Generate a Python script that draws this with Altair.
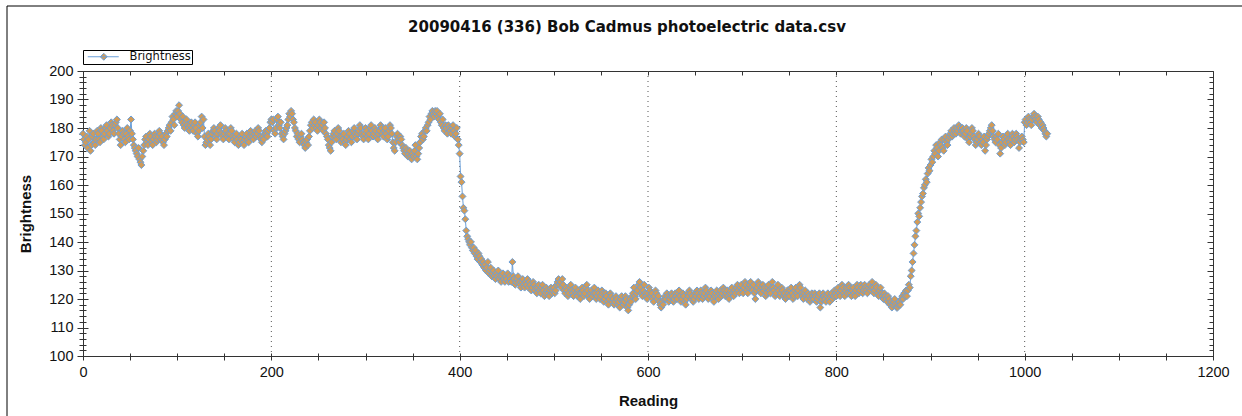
import altair as alt
import pandas as pd

# ---- data (one value per reading) ----
pre_eclipse = [
    178,176,174,175,177, 173,176,179,172,174, 177,178,175,174,176, 179,178,176,175,180, 179,177,176,178,180,
    181,179,177,178,180, 182,181,179,178,181, 182,183,180,178,176, 174,177,179,178,176, 175,178,180,177,176,
    179,183,178,176,174, 173,172,171,170,173, 169,168,167,170,172, 174,176,177,175,174, 176,178,177,175,174,
    176,178,177,175,176, 177,179,178,176,177, 175,174,176,178,177, 179,180,181,179,182, 184,183,181,185,186,
    184,186,188,185,183, 182,184,181,180,182, 183,181,180,179,181, 182,180,179,181,182, 180,178,177,179,181,
    182,184,180,183,177, 174,175,176,178,177, 174,176,178,179,180, 179,177,176,178,180, 179,181,178,177,176,
    178,180,179,177,178, 176,178,180,179,177, 176,175,177,178,176, 174,175,177,176,178, 175,174,176,177,178,
    176,175,177,179,178, 177,176,178,179,177, 178,180,179,177,176, 175,177,176,178,179, 178,177,179,180,182,
    183,182,183,179,178, 180,183,184,181,180, 182,178,177,176,178, 179,180,181,183,185, 184,186,185,183,182,
    180,179,177,178,176, 175,177,178,176,175, 174,173,175,176,174, 177,179,181,182,180, 183,181,182,180,179,
    181,183,182,180,181, 179,182,180,178,177, 176,174,173,172,175, 177,178,179,177,176, 178,180,179,177,175,
    177,176,178,175,174, 176,177,179,178,176, 175,177,179,180,178, 177,176,178,179,181, 180,178,177,176,178,
    180,179,177,176,178, 180,181,179,177,178, 180,179,177,176,178, 179,181,180,178,177, 179,180,178,176,177,
    179,181,180,178,175, 173,172,175,177,178, 176,175,177,176,174, 173,172,171,173,172, 170,171,172,170,169,
    171,170,172,174,170, 169,171,173,175,177, 178,176,177,179,180, 179,181,182,184,183, 185,186,185,184,186,
    185,186,184,183,185, 182,181,183,180,179, 181,180,178,181,180, 179,178,180,181,179, 177,178,180,176,174,
]
eclipse = [
    171,163,161,156,152, 151,148,144,142,141, 140,139,140,138,137, 138,136,137,135,134, 136,135,133,134,132,
    133,131,132,130,131, 133,129,130,131,128, 129,130,128,127,129, 128,130,127,128,126, 128,129,127,126,128,
    127,129,126,128,127, 126,133,128,127,125, 126,127,128,126,125, 124,126,127,125,124, 126,125,127,124,126,
    125,123,124,126,125, 123,124,122,124,125, 123,122,124,125,123, 121,122,124,123,122, 121,123,124,122,123,
    124,122,123,125,126, 127,125,126,124,127, 125,123,122,124,123, 121,122,124,125,123, 122,121,123,124,122,
    121,123,122,120,122, 124,123,121,122,124, 125,123,121,120,122, 123,121,122,124,122, 120,121,123,122,120,
    121,123,122,119,120, 122,121,119,118,120, 122,121,119,120,118, 119,121,120,118,119, 117,120,121,119,118,
    119,121,120,117,116, 118,120,119,121,122, 124,121,120,122,123, 125,126,124,122,121, 123,125,122,121,120,
    122,124,123,121,122, 120,119,121,123,122, 120,121,119,118,117, 119,118,120,121,120, 122,121,119,120,121,
    122,121,119,120,122, 121,120,122,123,121, 119,120,122,121,119, 118,120,122,121,123, 122,120,121,119,120,
    122,121,123,122,120, 121,123,122,120,121, 122,124,123,121,120, 122,121,123,122,120, 119,121,122,123,121,
    120,122,123,121,122, 124,123,121,122,123, 121,120,122,123,124, 122,121,123,122,124, 125,123,122,124,125,
    123,122,124,126,125, 123,122,124,125,126, 124,123,125,122,120, 123,124,126,125,123, 122,124,125,123,124,
    121,122,124,125,123, 122,124,126,124,123, 121,122,124,125,123, 121,122,124,123,121, 122,120,121,123,122,
    121,123,124,122,120, 121,123,124,122,121, 123,125,124,122,121, 120,122,123,121,120, 122,121,119,120,122,
    121,120,122,121,119, 120,121,122,117,119, 120,122,121,120,119, 121,122,120,119,121, 122,120,121,123,122,
    121,123,124,122,121, 123,125,124,122,121, 123,124,122,125,124, 122,121,123,124,122, 121,123,125,124,122,
    123,125,124,122,123, 125,124,123,122,124, 125,123,124,126,124, 122,123,125,124,122, 121,123,124,122,121,
    120,122,121,120,119, 121,120,118,119,117, 118,119,120,118,117, 117,118,119,118,120, 121,120,122,121,123,
]
post_eclipse = [
    121,123,125,124,128, 130,133,136,139,142, 144,147,150,149,152, 154,156,157,159,160, 162,161,164,166,165,
    167,169,168,170,172, 171,174,173,170,172, 175,174,176,173,172, 176,177,175,174,176, 177,178,179,177,178,
    180,179,178,180,179, 181,180,178,179,180, 179,177,178,180,179, 176,175,177,178,180, 179,177,176,174,175,
    176,178,177,175,174, 176,175,177,172,174, 176,177,178,179,180, 181,179,177,176,175, 177,176,178,174,171,
    173,175,177,176,174, 175,177,178,176,175, 174,176,178,177,175, 176,178,177,176,173, 175,176,177,176,175,
    182,183,181,182,184, 183,182,181,183,184, 185,184,183,182,184, 183,181,182,180,181, 180,179,178,177,178,
]

x_ticks = list(range(0, 1201, 50))
y_ticks = list(range(100, 201, 2))
grid_x = [200, 400, 600, 800, 1000]
title_text = "20090416 (336) Bob Cadmus photoelectric data.csv"
series_name = "Brightness"

brightness = pre_eclipse + eclipse + post_eclipse
df = pd.DataFrame({
    "Reading": list(range(len(brightness))),
    "Brightness": brightness,
    "series": series_name,
})
grid_df = pd.DataFrame({"g": grid_x})
frame_df = pd.DataFrame({"f": [0]})

BLUE = "#6a9fd9"
TAN = "#d19b58"
INK = "#111111"
AXC = "#333333"
FONT = "Liberation Sans"
W, H = 1130, 285

xs = alt.Scale(domain=[0, 1200], nice=False, zero=False)
ys = alt.Scale(domain=[100, 200], nice=False, zero=False)

major10 = {"condition": {"test": "datum.value % 10 === 0", "value": 6}, "value": 4}
major10s = {"condition": {"test": "datum.value % 10 === 0", "value": 5}, "value": 3}

main_x_axis = alt.Axis(
    orient="bottom", values=x_ticks, format="d",
    labelExpr="datum.value % 200 === 0 ? datum.label : ''",
    labelOverlap=False, labelFlush=False, labelBound=False,
    tickSize=4, tickColor=AXC, domainColor=AXC, grid=False,
    labelFont=FONT, labelFontSize=14.5, labelColor=INK, labelPadding=5,
    title="Reading", titleFont=FONT, titleFontSize=15, titleFontWeight="bold",
    titleColor=INK, titlePadding=15,
)
main_y_axis = alt.Axis(
    orient="left", values=y_ticks, format="d",
    labelExpr="datum.value % 10 === 0 ? datum.label : ''",
    labelOverlap=False, labelFlush=False, labelBound=False,
    tickSize=major10, tickColor=AXC, domainColor=AXC, grid=False,
    labelFont=FONT, labelFontSize=14.5, labelColor=INK, labelPadding=4,
    title="Brightness", titleFont=FONT, titleFontSize=15, titleFontWeight="bold",
    titleColor=INK, titlePadding=15,
)

x_enc = alt.X("Reading:Q", scale=xs, axis=main_x_axis)
y_enc = alt.Y("Brightness:Q", scale=ys, axis=main_y_axis)

frame = alt.Chart(frame_df).mark_rect(filled=False, stroke="black", strokeWidth=1).encode(
    x=alt.value(-76), x2=alt.value(1180), y=alt.value(-65), y2=alt.value(370)
)

grid = alt.Chart(grid_df).mark_rule(color="#555555", strokeDash=[1, 4], strokeWidth=1).encode(
    x=alt.X("g:Q", scale=xs, axis=None)
)

line = alt.Chart(df).mark_line(color=BLUE, strokeWidth=1).encode(x=x_enc, y=y_enc)

points = alt.Chart(df).mark_point(
    shape="diamond", filled=True, fill=TAN, strokeWidth=1, size=48, opacity=1
).encode(
    x=alt.X("Reading:Q", scale=xs, axis=None),
    y=alt.Y("Brightness:Q", scale=ys, axis=None),
    stroke=alt.Stroke(
        "series:N", scale=alt.Scale(range=[BLUE]),
        legend=alt.Legend(
            title=None, orient="none", legendX=0, legendY=-21,
            strokeColor="black", padding=1,
            symbolType="M-0.4,0L5.8,0M2.8,-0.7L3.5,0L2.8,0.7L2.1,0Z",
            symbolSize=100, symbolStrokeWidth=1, symbolFillColor=TAN,
            labelFont="DejaVu Sans", labelFontSize=11.5, labelColor=INK, labelOffset=34,
            labelExpr="datum.label + '\u00a0\u00a0\u00a0\u00a0'",
        ),
    ),
)

inner_ticks_a = alt.Chart(frame_df).mark_point(opacity=0, size=0).encode(
    x=alt.X("f:Q", scale=xs, axis=alt.Axis(
        orient="bottom", offset=-H, values=x_ticks, labels=False, domain=False,
        grid=False, tickSize=4, tickColor=AXC, title=None)),
    y=alt.Y("f:Q", scale=ys, axis=alt.Axis(
        orient="left", offset=-W, values=y_ticks, labels=False, domain=False,
        grid=False, tickSize=major10, tickColor=AXC, title=None)),
)
inner_ticks_b = alt.Chart(frame_df).mark_point(opacity=0, size=0).encode(
    x=alt.X("f:Q", scale=xs, axis=alt.Axis(
        orient="top", offset=-H, values=x_ticks, labels=False, domain=False,
        grid=False, tickSize=3, tickColor=AXC, title=None)),
    y=alt.Y("f:Q", scale=ys, axis=alt.Axis(
        orient="right", offset=-W, values=y_ticks, labels=False, domain=False,
        grid=False, tickSize=major10s, tickColor=AXC, title=None)),
)

chart = alt.layer(frame, grid, line, points, inner_ticks_a, inner_ticks_b).resolve_axis(
    x="independent", y="independent"
).properties(
    width=W, height=H,
    title=alt.TitleParams(
        text=title_text, font="DejaVu Sans", fontSize=15, fontWeight="bold", color=INK,
        anchor="middle", dx=-21, offset=-41, baseline="alphabetic",
    ),
    autosize=alt.AutoSizeParams(type="none"),
    padding={"left": 83, "top": 71, "right": 29, "bottom": 60},
    background="white",
).configure_view(stroke=AXC, strokeWidth=1)

chart.save("out.html", embed_options={"renderer": "svg", "actions": False})
